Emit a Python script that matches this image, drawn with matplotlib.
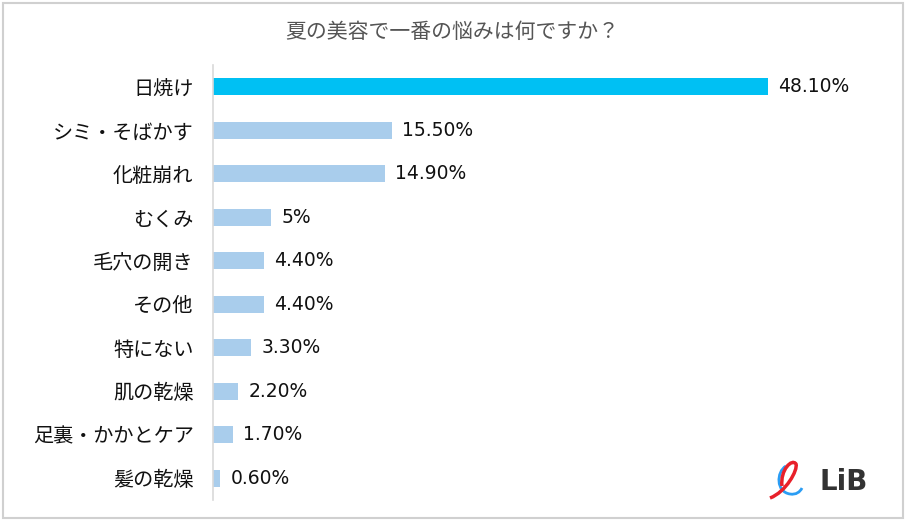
import matplotlib
matplotlib.use("Agg")
from matplotlib import pyplot as plt
from matplotlib.patches import Rectangle, PathPatch
from matplotlib.path import Path

plt.rcParams['font.family'] = ['Noto Sans CJK JP', 'DejaVu Sans']

categories = ['日焼け', 'シミ・そばかす', '化粧崩れ', 'むくみ', '毛穴の開き',
              'その他', '特にない', '肌の乾燥', '足裏・かかとケア', '髪の乾燥']
values = [48.1, 15.5, 14.9, 5.0, 4.4, 4.4, 3.3, 2.2, 1.7, 0.6]
value_labels = ['48.10%', '15.50%', '14.90%', '5%', '4.40%',
                '4.40%', '3.30%', '2.20%', '1.70%', '0.60%']
title = '夏の美容で一番の悩みは何ですか？'

W, H = 909, 522
fig = plt.figure(figsize=(W / 100, H / 100), dpi=100)

# outer frame
fig.patches.append(Rectangle((3 / W, 4 / H), 900 / W, 515 / H,
                             transform=fig.transFigure, fill=False,
                             edgecolor='#d0d0d0', linewidth=1.5))

ax = fig.add_axes([213 / W, 1 - 500 / H, 637 / W, 435 / H])
colors = ['#00c0f3'] + ['#a9cdec'] * (len(values) - 1)
ypos = list(range(len(categories)))
ax.barh(ypos, values, height=0.4, color=colors)
ax.set_ylim(len(categories) - 0.5, -0.5)
ax.set_xlim(0, 637 / 11.54)

for y, v, lab in zip(ypos, values, value_labels):
    ax.annotate(lab, (v, y), xytext=(7.5, 0), textcoords='offset points',
                ha='left', va='center', fontsize=13.5, color='#111111',
                family='DejaVu Sans')

ax.set_yticks(ypos)
ax.set_yticklabels(categories, fontsize=14.5, color='#111111')
ax.tick_params(axis='y', length=0, pad=14)
ax.set_xticks([])
for s in ['top', 'right', 'bottom']:
    ax.spines[s].set_visible(False)
ax.spines['left'].set_color('#d9d9d9')
ax.spines['left'].set_linewidth(1.2)

fig.text(452 / W, 1 - 32 / H, title, ha='center', va='center',
         fontsize=15, color='#555555')

# LiB logo
fig.text(820 / W, 1 - 482 / H, 'LiB', ha='left', va='center',
         fontsize=20, fontweight='bold', color='#333333', family='DejaVu Sans')
lax = fig.add_axes([768 / W, 1 - 500 / H, 40 / W, 40 / H])
lax.set_xlim(0, 40)
lax.set_ylim(0, 40)
lax.axis('off')
red = Path([(2, 2), (18, 8), (30, 30), (28, 36), (24, 42), (12, 30), (14, 14)],
           [Path.MOVETO, Path.CURVE4, Path.CURVE4, Path.CURVE4,
            Path.CURVE4, Path.CURVE4, Path.CURVE4])
blue = Path([(18, 34), (8, 28), (8, 8), (22, 6), (28, 5), (32, 8), (34, 12)],
            [Path.MOVETO, Path.CURVE4, Path.CURVE4, Path.CURVE4,
             Path.CURVE4, Path.CURVE4, Path.CURVE4])
lax.add_patch(PathPatch(blue, fill=False, edgecolor='#2a9df4', linewidth=2))
lax.add_patch(PathPatch(red, fill=False, edgecolor='#e8202a', linewidth=2.5))

fig.savefig('out.png', dpi=100)
